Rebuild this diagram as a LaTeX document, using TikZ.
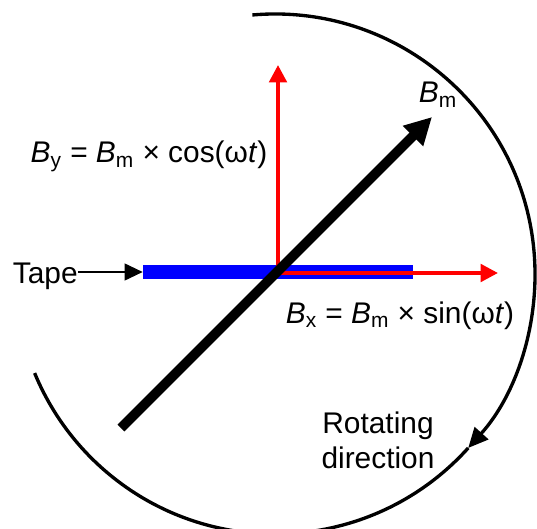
\documentclass[tikz,border=0pt]{standalone}
\usepackage{fontspec}
\setmainfont{Liberation Sans}
\usetikzlibrary{arrows.meta}

\begin{document}
\begin{tikzpicture}[
    font=\fontsize{17}{20}\selectfont,
    comp/.style={red, line width=2.2pt, shorten <=-1.1pt, -{Triangle[length=3.5mm, width=3.5mm]}},
    field/.style={line width=5.6pt, -{Triangle[length=5.4mm, width=5.4mm]}},
    feed/.style={line width=0.6pt, -{Triangle[length=3.6mm, width=3.4mm]}},
    rot/.style={line width=1.9pt},
    lbl/.style={inner sep=0pt, anchor=base}
]
\useasboundingbox (0,0) rectangle (10.74,10.56);

% ============================================================
% POINTS
% ============================================================
\coordinate (ctr) at (5.50,5.08);
\coordinate (o) at (5.56,5.10);
\coordinate (ytip) at (5.56,9.26);
\coordinate (xtip) at (9.96,5.10);
\coordinate (mtail) at (2.42,2.00);
\coordinate (mtip) at (8.64,8.22);

% ============================================================
% TAPE
% ============================================================
\node[fill=blue, inner sep=0pt, minimum width=5.4cm, minimum height=0.28cm] (strip) at (5.56,5.12) {};
\node[inner sep=0pt, anchor=base east] (tapelbl) at (1.56,4.90) {Tape};
\draw[feed] (tapelbl.east |- strip) -- (strip.west);

% ============================================================
% FIELD AND ITS COMPONENTS
% ============================================================
\draw[comp] (o) -- (ytip);
\draw[comp] (o) -- (xtip);
\draw[field] (mtail) -- (mtip);

\node[lbl] (bylbl) at (2.98,7.30) {\textit{B}\textsubscript{y} = \textit{B}\textsubscript{m} × cos(ω\textit{t})};
\node[lbl] (bxlbl) at (8.0,4.10) {\textit{B}\textsubscript{x} = \textit{B}\textsubscript{m} × sin(ω\textit{t})};
\node[lbl] (bmlbl) at (8.76,8.50) {\textit{B}\textsubscript{m}};

% ============================================================
% ROTATION
% ============================================================
\draw[rot, -{Triangle[length=4mm, width=3.6mm]}] ([shift={(95:5.2)}]ctr) arc[start angle=95, end angle=-42, radius=5.2];
\draw[rot] ([shift={(-42:5.2)}]ctr) arc[start angle=-42, end angle=-157.6, radius=5.2];
\node[align=center, inner sep=0pt] (rotlbl) at (7.56,1.76) {Rotating\\direction};

\end{tikzpicture}
\end{document}
